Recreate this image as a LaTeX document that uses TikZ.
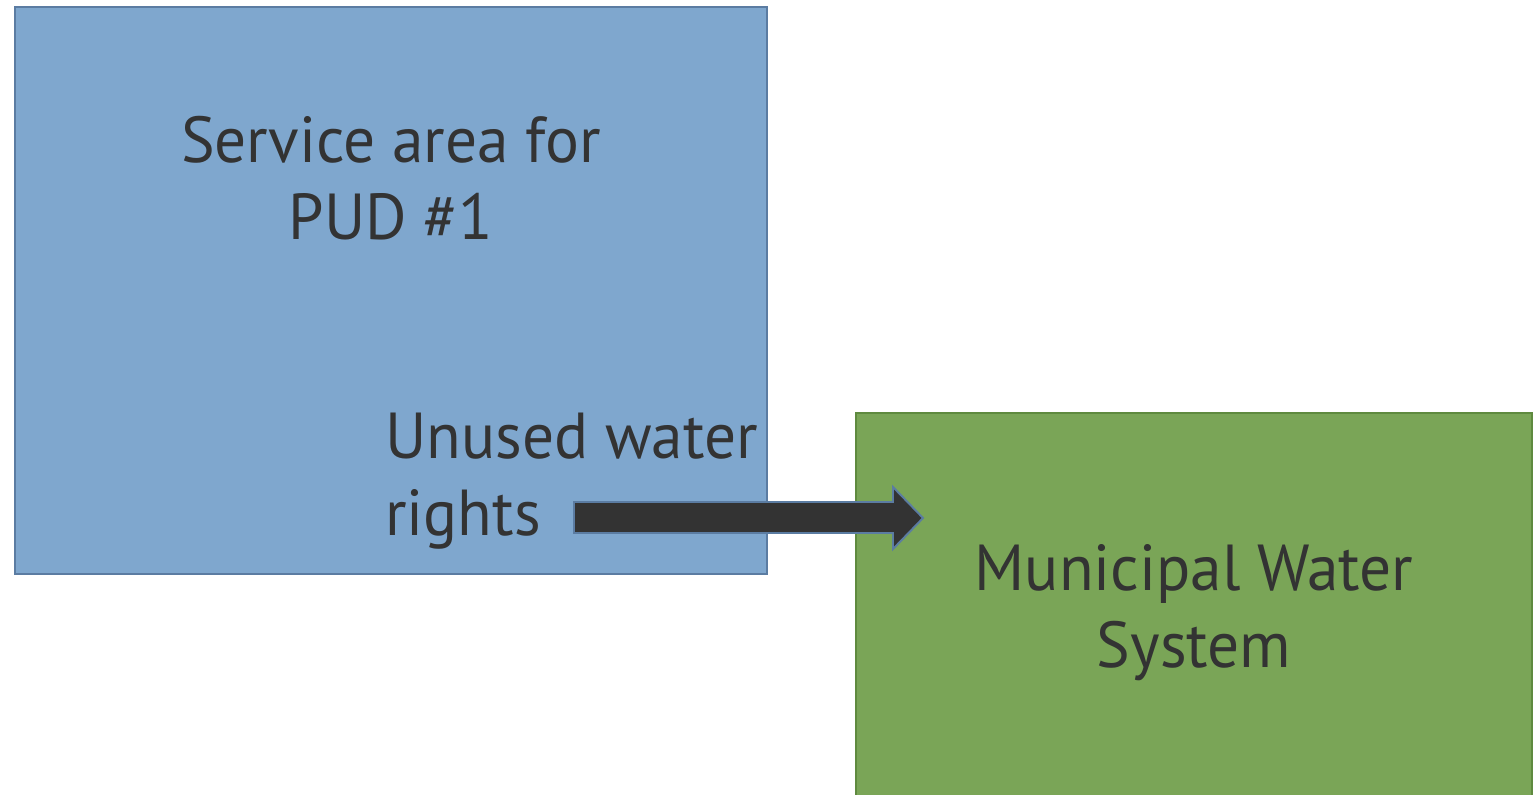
\documentclass[tikz,border=0pt]{standalone}
\usepackage{fontspec}
\setmainfont[FakeStretch=0.975]{PT Sans}
\usetikzlibrary{positioning}
\definecolor{bluefill}{HTML}{7FA7CE}
\definecolor{blueline}{HTML}{5B7CA2}
\definecolor{greenfill}{HTML}{7AA557}
\definecolor{greenline}{HTML}{5F8A3F}
\definecolor{txt}{HTML}{333333}
\definecolor{arrowfill}{HTML}{333333}
\tikzset{
  areabox/.style={rectangle, draw=blueline, fill=bluefill, line width=1.1pt, inner sep=0pt},
  sysbox/.style={rectangle, draw=greenline, fill=greenfill, line width=1.1pt, inner sep=0pt},
  bigtext/.style={text=txt, font=\fontsize{37}{43.7}\selectfont, align=center, inner sep=0pt},
  flowarrow/.style={draw=blueline, fill=arrowfill, line width=1.1pt, line join=miter}
}
\begin{document}
\begin{tikzpicture}[x=0.02cm, y=-0.02cm]
\useasboundingbox (0,0) rectangle (1537,794);
\clip (0,0) rectangle (1537,794);
\node[areabox, minimum width=15.04cm, minimum height=11.34cm] (pud) at (391,290.5) {};
\node[sysbox, minimum width=13.52cm, minimum height=7.8cm] (muni) at (1194,608) {};
\node[bigtext] (pudlabel) at (391,178) {Service area for\\PUD \#1};
\node[bigtext, align=left, anchor=west] (unused) at (385,481) {Unused water\\rights};
\node[bigtext] (munilabel) at (1194,613) {Municipal Water\\System};
\coordinate (tail) at (574,518);
\coordinate (tip) at (923,518);
\draw[flowarrow] (574,502) -- (893,502) -- (893,487) -- (tip) -- (893,549) -- (893,533) -- (574,533) -- cycle;
\end{tikzpicture}
\end{document}
